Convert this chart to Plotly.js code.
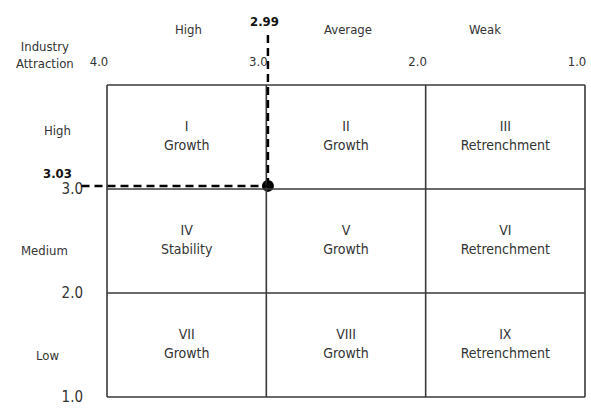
<!DOCTYPE html>
<html>
<head>
<meta charset="utf-8">
<script src="https://cdn.plot.ly/plotly-3.0.1.min.js"></script>
<style>html,body{margin:0;padding:0;background:#fff;}#chart{width:591px;height:409px;}</style>
</head>
<body>
<div id="chart"></div>
<script>
// ---- data ----
const xBounds = [4, 3, 2, 1];          // business strength cell boundaries
const yBounds = [4, 3, 2, 1];          // industry attraction cell boundaries
const xTickVals = [4, 3, 2, 1];
const xTickText = ['4.0', '3.0', '2.0', '1.0'];
const yTickVals = [3, 2, 1];
const yTickText = ['3.0', '2.0', '1.0'];
const colLabels = ['High', 'Average', 'Weak'];
const colMids = [3.5, 2.5, 1.5];
const rowLabels = ['High', 'Medium', 'Low'];
const rowMids = [3.5, 2.5, 1.5];
const cellNumerals = [['I', 'II', 'III'], ['IV', 'V', 'VI'], ['VII', 'VIII', 'IX']];
const cellStrategies = [['Growth', 'Growth', 'Retrenchment'],
                        ['Stability', 'Growth', 'Retrenchment'],
                        ['Growth', 'Growth', 'Retrenchment']];
const pointX = [2.99];
const pointY = [3.03];

// ---- styling / layout ----
const FONT = '"DejaVu Sans Condensed", "Liberation Sans Narrow", "DejaVu Sans", sans-serif';
const TXT = '#333333';
const xRange = [4.1695, 0.9874];
const yRange = [0.9808, 4.6635];
const guideX0 = 4.16, guideY1 = 4.5;
const colLabelShift = [2, 2, -20];
const rowLabelShift = [7, -9, -10];
const rowLabelX = [-0.045, -0.07, -0.065];

const cx = [], cy = [], ct = [];
rowMids.forEach((ym, r) => colMids.forEach((xm, c) => {
  cx.push(xm); cy.push(ym); ct.push(cellNumerals[r][c] + '<br>' + cellStrategies[r][c]);
}));

const shapes = [];
const gridLine = {color: '#3a3a3a', width: 1.6};
xBounds.forEach(xb => shapes.push({type: 'line', xref: 'x', yref: 'y', x0: xb, x1: xb,
  y0: yBounds[yBounds.length - 1], y1: yBounds[0], line: gridLine}));
yBounds.forEach(yb => shapes.push({type: 'line', xref: 'x', yref: 'y', y0: yb, y1: yb,
  x0: xBounds[0], x1: xBounds[xBounds.length - 1], line: gridLine}));
const dash = {color: '#000', width: 2.5, dash: '8px,5px'};
shapes.push({type: 'line', xref: 'x', yref: 'y', x0: guideX0, x1: pointX[0], y0: pointY[0], y1: pointY[0], line: dash});
shapes.push({type: 'line', xref: 'x', yref: 'y', x0: pointX[0], x1: pointX[0], y0: pointY[0], y1: guideY1, line: dash});

const annotations = [];
const lbl = {family: FONT, size: 13, color: TXT};
colLabels.forEach((t, i) => annotations.push({text: t, xref: 'x', yref: 'paper', x: colMids[i], y: 0.966,
  xanchor: 'center', yanchor: 'middle', xshift: colLabelShift[i], showarrow: false, font: lbl}));
rowLabels.forEach((t, i) => annotations.push({text: t, xref: 'paper', yref: 'y', x: rowLabelX[i], y: rowMids[i],
  xanchor: 'center', yanchor: 'middle', yshift: rowLabelShift[i], showarrow: false, font: lbl}));
annotations.push({text: 'Industry<br>Attraction', xref: 'paper', yref: 'paper', x: -0.069, y: 0.898,
  xanchor: 'center', yanchor: 'middle', showarrow: false, font: lbl});
annotations.push({text: '<b>' + pointY[0].toFixed(2) + '</b>', xref: 'x', yref: 'y', x: guideX0, y: pointY[0],
  xanchor: 'right', yanchor: 'middle', xshift: -8, yshift: 12, showarrow: false,
  font: {family: FONT, size: 13, color: '#111'}});
annotations.push({text: '<b>' + pointX[0].toFixed(2) + '</b>', xref: 'x', yref: 'y', x: pointX[0], y: guideY1,
  xanchor: 'center', yanchor: 'bottom', xshift: -3, yshift: 2, showarrow: false,
  font: {family: FONT, size: 13, color: '#111'}});

const traces = [
  {x: cx, y: cy, text: ct, mode: 'text', type: 'scatter', hoverinfo: 'skip',
   textfont: {family: FONT, size: 14, color: TXT}},
  {x: pointX, y: pointY, mode: 'markers', type: 'scatter', cliponaxis: false,
   marker: {color: '#000', size: 12, symbol: 'circle'}}
];

const layout = {
  width: 591, height: 409,
  margin: {l: 80, r: 4, t: 16, b: 10},
  paper_bgcolor: '#fff', plot_bgcolor: '#fff',
  showlegend: false,
  font: {family: FONT, color: TXT},
  xaxis: {range: xRange, anchor: 'free', position: 0.8198, side: 'top',
          tickmode: 'array', tickvals: xTickVals, ticktext: xTickText,
          showgrid: false, zeroline: false, showline: false, ticks: '',
          ticklabelstandoff: 16, ticklabelshift: 8, ticklabeloverflow: 'allow',
          tickfont: {family: FONT, size: 13, color: TXT}},
  yaxis: {range: yRange, anchor: 'free', position: 0.0533,
          tickmode: 'array', tickvals: yTickVals, ticktext: yTickText,
          showgrid: false, zeroline: false, showline: false, ticks: '',
          ticklabelstandoff: 24, ticklabeloverflow: 'allow',
          tickfont: {family: FONT, size: 15, color: TXT}},
  shapes: shapes,
  annotations: annotations
};

Plotly.newPlot('chart', traces, layout, {displayModeBar: false, staticPlot: true});
</script>
</body>
</html>
